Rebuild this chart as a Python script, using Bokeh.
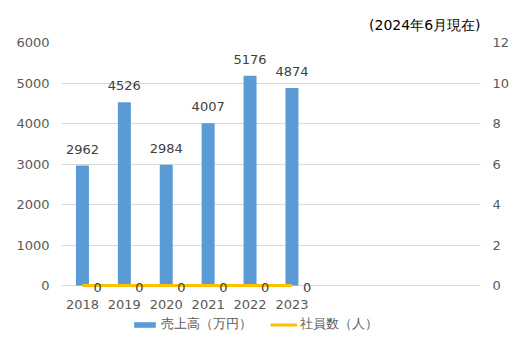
from bokeh.plotting import figure
from bokeh.models import (ColumnDataSource, Range1d, LinearAxis, FixedTicker,
                          Legend, LegendItem, Title)
from bokeh.core.properties import value
from bokeh.embed import file_html
from bokeh.resources import INLINE

years = ["2018", "2019", "2020", "2021", "2022", "2023"]
sales = [2962, 4526, 2984, 4007, 5176, 4874]
staff = [0, 0, 0, 0, 0, 0]
n_slots = 10
sales_ticks = [0, 1000, 2000, 3000, 4000, 5000, 6000]
staff_ticks = [0, 2, 4, 6, 8, 10, 12]
sales_name = "売上高（万円）"
staff_name = "社員数（人）"
note = "(2024年6月現在)"

FONT = "DejaVu Sans"
GREY = "#595959"
DARK = "#404040"

# The frame is extended below the zero line so that the legend (drawn in the
# frame) is not clipped; the lower part carries no data.
ext = 0.251  # fraction of the axis span below zero
s_lo = -ext * sales_ticks[-1]
t_lo = -ext * staff_ticks[-1]

idx = list(range(len(years)))
src = ColumnDataSource(dict(x=idx, sales=sales, staff=staff, year=years,
                            zero=[0] * len(years),
                            sales_lbl=[str(v) for v in sales],
                            staff_lbl=[str(v) for v in staff]))

p = figure(width=520, height=346, output_backend="svg", toolbar_location=None,
           x_range=Range1d(-0.5, n_slots - 0.5),
           y_range=Range1d(s_lo, sales_ticks[-1]),
           x_axis_location=None,
           min_border_left=61, min_border_right=40, min_border_top=42,
           min_border_bottom=0)
p.outline_line_color = None
p.background_fill_color = "white"
p.border_fill_color = "white"
p.extra_y_ranges = {"staff": Range1d(t_lo, staff_ticks[-1])}

p.yaxis.ticker = FixedTicker(ticks=sales_ticks)
ax_r = LinearAxis(y_range_name="staff", ticker=FixedTicker(ticks=staff_ticks))
p.add_layout(ax_r, "right")
for ax in [p.yaxis[0], ax_r]:
    ax.axis_line_color = None
    ax.major_tick_line_color = None
    ax.minor_tick_line_color = None
    ax.major_tick_out = 0
    ax.major_tick_in = 0
    ax.major_label_text_font = FONT
    ax.major_label_text_font_size = "13px"
    ax.major_label_text_color = GREY
    ax.major_label_standoff = 12

p.xgrid.grid_line_color = None
p.ygrid.grid_line_color = "#d9d9d9"
p.ygrid.grid_line_width = 1

bars = p.vbar(x="x", top="sales", width=0.31, source=src,
              fill_color="#5B9BD5", line_color=None)
line = p.line(x="x", y="staff", source=src, y_range_name="staff",
              line_color="#FFC000", line_width=3)

# category labels under the zero line
p.text(x="x", y="zero", text="year", source=src,
       text_align="center", text_baseline="top", y_offset=14,
       text_font=value(FONT), text_font_size="13px", text_color=GREY)

p.text(x="x", y="sales", text="sales_lbl", source=src,
       text_align="center", text_baseline="bottom", y_offset=-12,
       text_font=value(FONT), text_font_size="13px", text_color=DARK)
p.text(x="x", y="staff", text="staff_lbl", source=src, y_range_name="staff",
       text_align="left", text_baseline="middle", x_offset=11, y_offset=2,
       text_font=value(FONT), text_font_size="13px", text_color=DARK)

legend = Legend(items=[LegendItem(label=sales_name, renderers=[bars]),
                       LegendItem(label=staff_name, renderers=[line])],
                orientation="horizontal", location=(70, 13),
                glyph_width=27, glyph_height=7, label_standoff=3, spacing=18,
                padding=0, margin=0, border_line_color=None,
                background_fill_alpha=0,
                label_text_font=FONT, label_text_font_size="13px",
                label_text_color=GREY, label_height=16)
p.add_layout(legend, "center")

p.add_layout(Title(text=note, align="right", text_font=FONT,
                   text_font_size="14px", text_font_style="normal",
                   text_color="black", standoff=20), "above")

open("out.html", "w").write(file_html(p, INLINE))
